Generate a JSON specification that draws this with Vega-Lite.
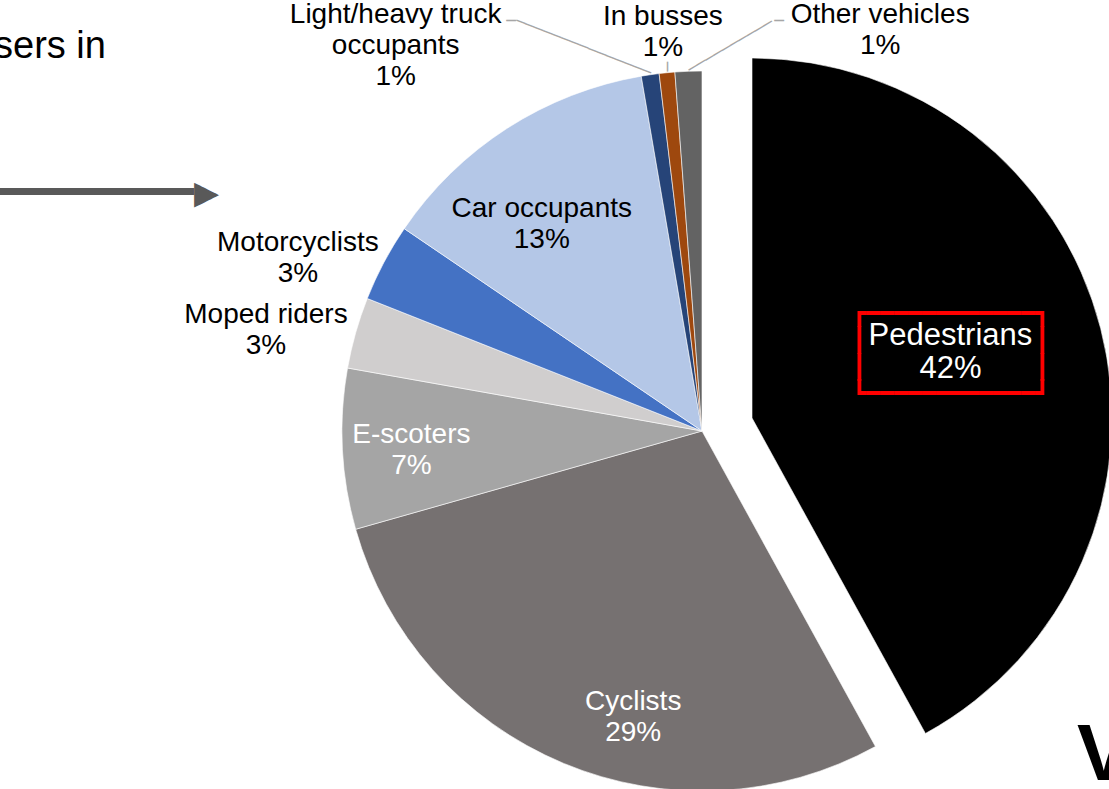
{
  "$schema": "https://vega.github.io/schema/vega-lite/v6.json",
  "width": 814,
  "height": 716,
  "autosize": {"type": "none"},
  "padding": {"left": 295, "top": 73, "right": 0, "bottom": 0},
  "background": "#ffffff",
  "config": {"view": {"stroke": null}},
  "title": {
    "text": "sers in",
    "subtitle": "━━━━━━━━▶",
    "anchor": "start",
    "frame": "group",
    "font": "Liberation Sans",
    "fontSize": 38,
    "fontWeight": "normal",
    "color": "#000000",
    "subtitleFont": "DejaVu Sans Mono",
    "subtitleFontSize": 41.5,
    "subtitleColor": "#595959",
    "subtitlePadding": 110,
    "offset": 0,
    "baseline": "alphabetic",
    "dx": -301,
    "dy": 243
  },
  "data": {
    "values": [
      {"seq": 1, "category": "Pedestrians", "share": 42.0, "label": "Pedestrians\n42%"},
      {"seq": 2, "category": "Cyclists", "share": 28.6, "label": "Cyclists\n29%"},
      {"seq": 3, "category": "E-scoters", "share": 7.2, "label": "E-scoters\n7%"},
      {"seq": 4, "category": "Moped riders", "share": 3.2, "label": "Moped riders\n3%"},
      {"seq": 5, "category": "Motorcyclists", "share": 3.5, "label": "Motorcyclists\n3%"},
      {"seq": 6, "category": "Car occupants", "share": 12.8, "label": "Car occupants\n13%"},
      {"seq": 7, "category": "Light/heavy truck occupants", "share": 0.8, "label": "Light/heavy truck\noccupants\n1%"},
      {"seq": 8, "category": "In busses", "share": 0.7, "label": "In busses\n1%"},
      {"seq": 9, "category": "Other vehicles", "share": 1.2, "label": "Other vehicles\n1%"}
    ]
  },
  "layer": [
    {
      "mark": {
        "type": "arc",
        "radius": 360,
        "stroke": "#ffffff",
        "strokeWidth": 0.6,
        "x": {"expr": "width/2 + (datum.category === 'Pedestrians' ? 50 : 0)"},
        "y": {"expr": "height/2 - (datum.category === 'Pedestrians' ? 13 : 0)"}
      },
      "encoding": {
        "theta": {"field": "share", "type": "quantitative", "stack": true},
        "order": {"field": "seq", "type": "quantitative"},
        "color": {
          "field": "category",
          "type": "nominal",
          "legend": null,
          "scale": {
            "domain": ["Pedestrians", "Cyclists", "E-scoters", "Moped riders", "Motorcyclists", "Car occupants", "Light/heavy truck occupants", "In busses", "Other vehicles"],
            "range": ["#000000", "#767171", "#a5a5a5", "#d0cece", "#4472c4", "#b4c7e7", "#264478", "#9e480e", "#636363"]
          }
        }
      }
    },
    {
      "mark": {
        "type": "text",
        "font": "DejaVu Sans Mono",
        "fontSize": 23.4,
        "lineHeight": 26.7,
        "lineBreak": "\n",
        "align": "center",
        "baseline": "middle",
        "x": {"expr": "width/2 + 50"},
        "y": {"expr": "height/2 - 13"},
        "radius": 208,
        "dx": -3,
        "dy": -52
      },
      "encoding": {
        "theta": {"field": "share", "type": "quantitative", "stack": true},
        "order": {"field": "seq", "type": "quantitative"},
        "detail": {"field": "category", "type": "nominal"},
        "text": {
          "condition": {"test": "datum.category === 'Pedestrians'", "value": "┏━━━━━━━━━━━━┓\n┃\u00a0\u00a0\u00a0\u00a0\u00a0\u00a0\u00a0\u00a0\u00a0\u00a0\u00a0\u00a0┃\n┃\u00a0\u00a0\u00a0\u00a0\u00a0\u00a0\u00a0\u00a0\u00a0\u00a0\u00a0\u00a0┃\n┗━━━━━━━━━━━━┛"},
          "value": ""
        },
        "color": {"value": "#ff0000"}
      }
    },
    {
      "mark": {
        "type": "text",
        "font": "DejaVu Sans Mono",
        "fontSize": 16,
        "align": "center",
        "baseline": "middle",
        "x": {"expr": "width/2"},
        "y": {"expr": "height/2"},
        "theta": {"expr": "datum.category === 'Light/heavy truck occupants' ? -0.2993 : datum.category === 'In busses' ? -0.0957 : 0.0739"},
        "radius": {"expr": "datum.category === 'Light/heavy truck occupants' ? 401.9 : datum.category === 'In busses' ? 366.2 : 386.05"},
        "angle": {"expr": "datum.category === 'Light/heavy truck occupants' ? 21.35 : datum.category === 'In busses' ? 90 : -30.47"}
      },
      "encoding": {
        "text": {
          "condition": [
            {"test": "datum.category === 'Light/heavy truck occupants'", "value": "───────────────"},
            {"test": "datum.category === 'In busses'", "value": "─"},
            {"test": "datum.category === 'Other vehicles'", "value": "──────────"}
          ],
          "value": ""
        },
        "color": {"value": "#a6a6a6"}
      }
    },
    {
      "mark": {
        "type": "text",
        "font": "DejaVu Sans Mono",
        "fontSize": 16,
        "align": "center",
        "baseline": "middle",
        "x": {"expr": "width/2"},
        "y": {"expr": "height/2"},
        "theta": {"expr": "datum.category === 'Light/heavy truck occupants' ? -0.4357 : 0.1855"},
        "radius": {"expr": "datum.category === 'Light/heavy truck occupants' ? 452.6 : 417.5"}
      },
      "encoding": {
        "text": {
          "condition": [
            {"test": "datum.category === 'Light/heavy truck occupants'", "value": "─"},
            {"test": "datum.category === 'Other vehicles'", "value": "─"}
          ],
          "value": ""
        },
        "color": {"value": "#a6a6a6"}
      }
    },
    {
      "mark": {
        "type": "text",
        "font": "Liberation Sans",
        "fontWeight": "bold",
        "fontSize": 80,
        "align": "left",
        "baseline": "alphabetic",
        "x": {"expr": "width/2"},
        "y": {"expr": "height/2"},
        "theta": 2.3204,
        "radius": 512.3
      },
      "encoding": {
        "text": {
          "condition": {"test": "datum.category === 'Pedestrians'", "value": "V"},
          "value": ""
        },
        "color": {"value": "#000000"}
      }
    },
    {
      "mark": {
        "type": "text",
        "font": "Liberation Sans",
        "lineBreak": "\n",
        "align": "center",
        "baseline": "middle",
        "fontSize": {"expr": "datum.category === 'Pedestrians' ? 31 : 28"},
        "lineHeight": {"expr": "datum.category === 'Pedestrians' ? 33 : 31"},
        "x": {"expr": "width/2 + (datum.category === 'Pedestrians' ? 50 : 0)"},
        "y": {"expr": "height/2 - (datum.category === 'Pedestrians' ? 13 : 0)"},
        "radius": {"expr": "datum.category === 'Pedestrians' ? 208 : datum.category === 'Cyclists' ? 290 : datum.category === 'E-scoters' ? 291 : datum.category === 'Moped riders' ? 447 : datum.category === 'Motorcyclists' ? 438 : datum.category === 'Car occupants' ? 261 : datum.category === 'Light/heavy truck occupants' ? 426 : datum.category === 'In busses' ? 402 : 394"},
        "dx": {"expr": "datum.category === 'Pedestrians' ? -3 : datum.category === 'Cyclists' ? 43 : datum.category === 'Moped riders' ? -6 : datum.category === 'Motorcyclists' ? -17 : datum.category === 'Car occupants' ? -19 : datum.category === 'Light/heavy truck occupants' ? -245 : datum.category === 'Other vehicles' ? 193 : 0"},
        "dy": {"expr": "datum.category === 'Pedestrians' ? -30 : datum.category === 'Cyclists' ? 3 : datum.category === 'E-scoters' ? -11 : datum.category === 'Moped riders' ? 6 : datum.category === 'Motorcyclists' ? 17 : datum.category === 'Car occupants' ? -3 : datum.category === 'Light/heavy truck occupants' ? 6 : datum.category === 'In busses' ? -14 : -22"}
      },
      "encoding": {
        "theta": {"field": "share", "type": "quantitative", "stack": true},
        "order": {"field": "seq", "type": "quantitative"},
        "detail": {"field": "category", "type": "nominal"},
        "text": {"field": "label", "type": "nominal"},
        "color": {
          "condition": {"test": "datum.category === 'Pedestrians' || datum.category === 'Cyclists' || datum.category === 'E-scoters'", "value": "#ffffff"},
          "value": "#000000"
        }
      }
    }
  ]
}
